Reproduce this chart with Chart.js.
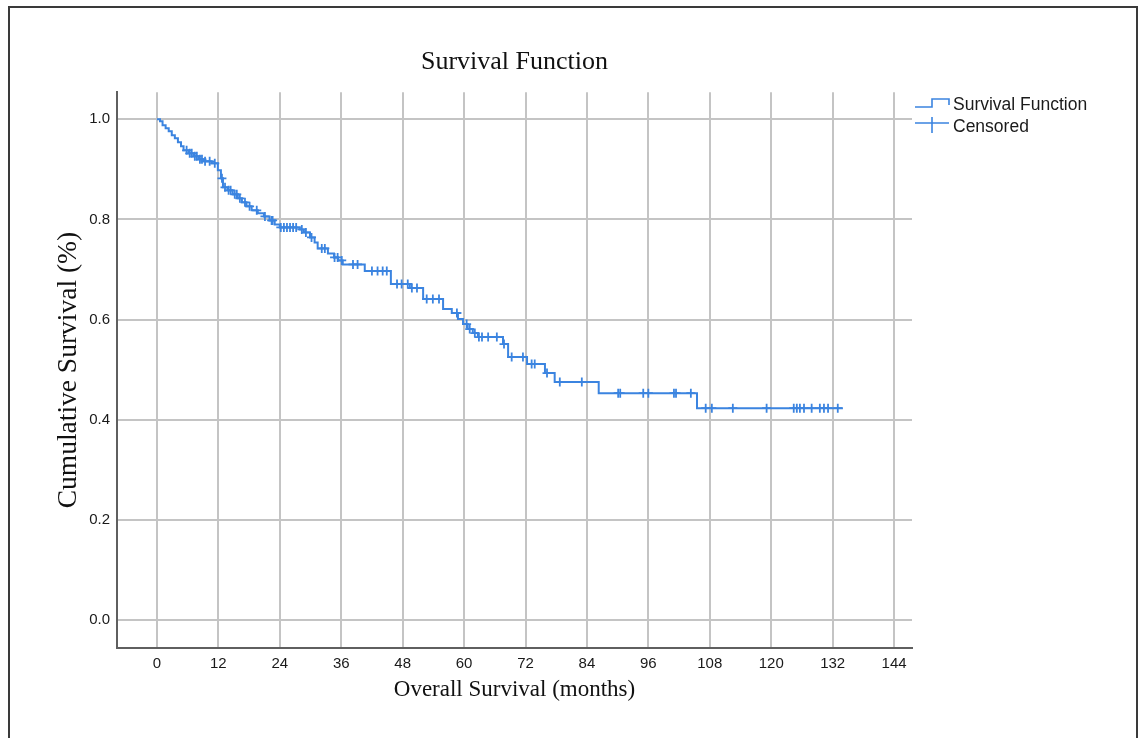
<!DOCTYPE html>
<html>
<head>
<meta charset="utf-8">
<script src="https://cdn.jsdelivr.net/npm/chart.js@4.4.1/dist/chart.umd.min.js"></script>
<style>
  body { margin: 0; background: #fff; }
  #frame { position: absolute; left: 8px; top: 6px; width: 1130px; height: 800px; box-sizing: border-box; border: 2px solid #3a3a3a; }
  #survChart { position: absolute; left: 0; top: 0; }
</style>
</head>
<body>
<div id="frame"></div>
<canvas id="survChart" width="1143" height="738"></canvas>
<script>
// Kaplan-Meier step curve (months, cumulative survival)
const eventMonths = [0, 0.6, 1.1, 1.7, 2.3, 2.9, 3.5, 4.1, 4.7, 5.2, 6.2, 7.2, 8.2, 9.1, 10.7, 11.9, 12.5, 12.9,
  13.8, 14.8, 15.8, 16.6, 17.5, 18.5, 19.7, 20.9, 22.0, 23.0, 24.0, 27.9, 28.7, 29.9, 30.8, 31.4, 33.4, 34.6,
  35.4, 36.3, 40.6, 45.7, 49.4, 52.0, 55.9, 57.6, 58.8, 59.8, 60.7, 61.7, 62.7, 67.6, 68.6, 72.3, 75.8, 77.7,
  86.3, 105.5, 134.0];
const eventSurvival = [1.0, 0.996, 0.988, 0.982, 0.976, 0.968, 0.962, 0.954, 0.946, 0.938, 0.932, 0.926, 0.920, 0.916, 0.912, 0.898, 0.882, 0.864,
  0.858, 0.850, 0.842, 0.834, 0.826, 0.818, 0.812, 0.806, 0.798, 0.790, 0.784, 0.780, 0.774, 0.764, 0.754, 0.742, 0.732, 0.724,
  0.718, 0.710, 0.697, 0.671, 0.663, 0.641, 0.621, 0.613, 0.601, 0.591, 0.581, 0.573, 0.565, 0.551, 0.525, 0.511, 0.493, 0.475,
  0.453, 0.423, 0.423];

// censored observations
const censorMonths = [5.8, 6.4, 6.8, 7.4, 7.8, 8.4, 8.8, 9.4, 10.3, 11.3, 12.7, 13.3, 14.0, 14.4, 15.2, 15.6, 16.2, 17.2,
  18.1, 19.5, 21.1, 22.4, 22.6, 24.2, 24.8, 25.4, 26.0, 26.6, 27.2, 28.3, 29.1, 30.2, 32.2, 32.8, 34.7, 35.3, 36.1,
  38.3, 39.2, 42.0, 43.1, 44.1, 44.9, 46.9, 47.8, 49.0, 49.8, 50.8, 52.7, 53.9, 55.1, 58.6, 60.5, 61.1, 62.1, 62.9,
  63.5, 64.7, 66.4, 67.8, 69.3, 71.5, 73.2, 73.8, 76.2, 78.7, 83.0, 90.1, 90.5, 95.0, 96.0, 101.0, 101.4, 104.3,
  107.2, 108.4, 112.5, 119.1, 124.4, 125.0, 125.6, 126.4, 127.9, 129.5, 130.3, 131.1, 133.0];
const censorSurvival = [0.938, 0.932, 0.932, 0.926, 0.926, 0.920, 0.920, 0.916, 0.916, 0.912, 0.882, 0.864, 0.858, 0.858, 0.850, 0.850, 0.842, 0.834,
  0.826, 0.818, 0.806, 0.798, 0.798, 0.784, 0.784, 0.784, 0.784, 0.784, 0.784, 0.780, 0.774, 0.764, 0.742, 0.742, 0.724, 0.724, 0.718,
  0.710, 0.710, 0.697, 0.697, 0.697, 0.697, 0.671, 0.671, 0.671, 0.663, 0.663, 0.641, 0.641, 0.641, 0.613, 0.591, 0.581, 0.573, 0.565,
  0.565, 0.565, 0.565, 0.551, 0.525, 0.525, 0.511, 0.511, 0.493, 0.475, 0.475, 0.453, 0.453, 0.453, 0.453, 0.453, 0.453, 0.453,
  0.423, 0.423, 0.423, 0.423, 0.423, 0.423, 0.423, 0.423, 0.423, 0.423, 0.423, 0.423, 0.423];

const xTicks = [0, 12, 24, 36, 48, 60, 72, 84, 96, 108, 120, 132, 144];
const yTicks = [0, 0.2, 0.4, 0.6, 0.8, 1.0];
const legendLabels = ['Survival Function', 'Censored'];

const BLUE = '#3b84e0';
const sansFont = "'Liberation Sans', Arial, sans-serif";
const serifFont = "'Liberation Serif', 'Times New Roman', serif";

// SPSS style legend drawn beside the plot
const spssLegend = {
  id: 'spssLegend',
  afterDraw(chart) {
    const c = chart.ctx;
    c.save();
    c.strokeStyle = BLUE;
    c.lineWidth = 1.6;
    // step icon
    c.beginPath();
    c.moveTo(915, 107); c.lineTo(932, 107); c.lineTo(932, 99); c.lineTo(949, 99); c.lineTo(949, 105);
    c.stroke();
    // censored icon
    c.beginPath();
    c.moveTo(915, 123); c.lineTo(949, 123);
    c.moveTo(932, 117); c.lineTo(932, 133);
    c.stroke();
    c.fillStyle = '#1a1a1a';
    c.font = '17.5px ' + sansFont;
    c.textBaseline = 'middle';
    c.fillText(legendLabels[0], 953, 105);
    c.fillText(legendLabels[1], 953, 127);
    c.restore();
  }
};

new Chart(document.getElementById('survChart'), {
  type: 'line',
  data: {
    datasets: [{
      label: legendLabels[0],
      data: eventMonths.map((m, i) => ({ x: m, y: eventSurvival[i] })),
      borderColor: BLUE,
      borderWidth: 2,
      stepped: 'before',
      pointRadius: 0,
      fill: false
    }, {
      label: legendLabels[1],
      data: censorMonths.map((m, i) => ({ x: m, y: censorSurvival[i] })),
      showLine: false,
      pointStyle: 'cross',
      pointRadius: 4.5,
      borderColor: BLUE,
      pointBorderWidth: 1.8
    }]
  },
  options: {
    responsive: false,
    animation: false,
    layout: { padding: { left: 0, right: 231, top: 0, bottom: 0 } },
    scales: {
      x: {
        type: 'linear',
        min: -7.8,
        max: 147.5,
        afterBuildTicks: s => { s.ticks = xTicks.map(v => ({ value: v })); },
        afterFit: s => { s.height = 90; },
        ticks: { color: '#1a1a1a', font: { family: sansFont, size: 15 }, padding: 7 },
        grid: { color: '#c4c4c4', lineWidth: 2, drawTicks: false },
        border: { color: '#5f5f5f', width: 2 },
        title: {
          display: true,
          text: 'Overall Survival (months)',
          color: '#111',
          font: { family: serifFont, size: 23 },
          padding: { top: 0, bottom: 34 }
        }
      },
      y: {
        type: 'linear',
        min: -0.056,
        max: 1.054,
        afterBuildTicks: s => { s.ticks = yTicks.map(v => ({ value: v })); },
        afterFit: s => { s.width = 117; },
        ticks: { color: '#1a1a1a', font: { family: sansFont, size: 15 }, padding: 7, callback: v => v.toFixed(1) },
        grid: { color: '#c4c4c4', lineWidth: 2, drawTicks: false },
        border: { color: '#5f5f5f', width: 2 },
        title: {
          display: true,
          text: 'Cumulative Survival (%)',
          color: '#111',
          font: { family: serifFont, size: 27.5 },
          padding: { top: 52, bottom: 0 }
        }
      }
    },
    plugins: {
      legend: { display: false },
      tooltip: { enabled: false },
      title: {
        display: true,
        fullSize: false,
        align: 'center',
        text: 'Survival Function',
        color: '#111',
        font: { family: serifFont, size: 26, weight: 'normal' },
        padding: { top: 47, bottom: 14 }
      }
    }
  },
  plugins: [spssLegend]
});
</script>
</body>
</html>
